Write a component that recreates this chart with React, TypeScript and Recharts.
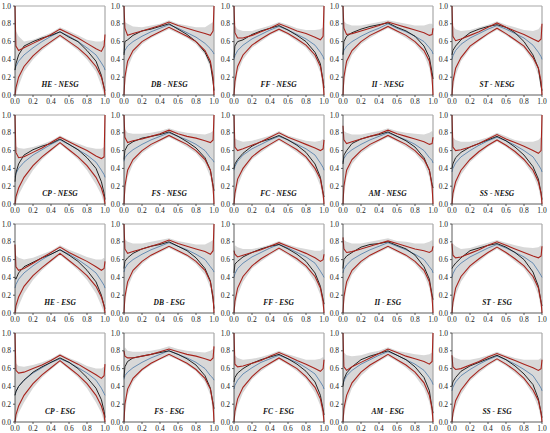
import {
  ComposedChart,
  Area,
  Line,
  XAxis,
  YAxis,
  ReferenceLine,
} from "recharts";

const X: number[] = [0, 0.01, 0.04, 0.1, 0.2, 0.3, 0.4, 0.5, 0.6, 0.7, 0.8, 0.9, 0.96, 0.99, 1];

const PANELS: string[] = [
  "HE - NESG", "DB - NESG", "FF - NESG", "II - NESG", "ST - NESG",
  "CP - NESG", "FS - NESG", "FC - NESG", "AM - NESG", "SS - NESG",
  "HE - ESG", "DB - ESG", "FF - ESG", "II - ESG", "ST - ESG",
  "CP - ESG", "FS - ESG", "FC - ESG", "AM - ESG", "SS - ESG",
];

// upper envelope (red)
const UPPER: number[][] = [
  [1.0, 0.55, 0.5, 0.53, 0.58, 0.63, 0.68, 0.74, 0.69, 0.64, 0.58, 0.52, 0.49, 0.55, 0.68],
  [1.0, 0.75, 0.67, 0.69, 0.72, 0.75, 0.78, 0.82, 0.78, 0.75, 0.72, 0.69, 0.67, 0.72, 1.0],
  [1.0, 0.7, 0.64, 0.64, 0.67, 0.71, 0.75, 0.8, 0.76, 0.72, 0.69, 0.65, 0.62, 0.66, 1.0],
  [1.0, 0.75, 0.68, 0.69, 0.72, 0.75, 0.78, 0.82, 0.79, 0.76, 0.73, 0.7, 0.67, 0.68, 0.75],
  [1.0, 0.66, 0.61, 0.63, 0.67, 0.71, 0.76, 0.81, 0.76, 0.72, 0.68, 0.63, 0.6, 0.63, 0.8],
  [1.0, 0.58, 0.52, 0.53, 0.58, 0.63, 0.69, 0.75, 0.7, 0.65, 0.6, 0.54, 0.51, 0.53, 1.0],
  [1.0, 0.75, 0.69, 0.71, 0.73, 0.76, 0.79, 0.83, 0.79, 0.76, 0.74, 0.71, 0.69, 0.72, 1.0],
  [1.0, 0.64, 0.6, 0.62, 0.66, 0.7, 0.75, 0.8, 0.75, 0.71, 0.67, 0.63, 0.6, 0.62, 0.72],
  [0.88, 0.72, 0.68, 0.7, 0.73, 0.76, 0.79, 0.83, 0.79, 0.76, 0.73, 0.7, 0.67, 0.68, 0.75],
  [1.0, 0.64, 0.6, 0.61, 0.64, 0.68, 0.73, 0.78, 0.73, 0.69, 0.65, 0.6, 0.57, 0.6, 1.0],
  [0.77, 0.52, 0.48, 0.5, 0.56, 0.62, 0.68, 0.74, 0.68, 0.63, 0.58, 0.52, 0.48, 0.5, 0.58],
  [1.0, 0.72, 0.67, 0.69, 0.72, 0.75, 0.78, 0.82, 0.78, 0.75, 0.72, 0.69, 0.66, 0.7, 1.0],
  [0.7, 0.66, 0.63, 0.65, 0.68, 0.71, 0.75, 0.79, 0.75, 0.71, 0.67, 0.62, 0.58, 0.6, 0.66],
  [0.85, 0.72, 0.68, 0.69, 0.72, 0.75, 0.78, 0.81, 0.78, 0.75, 0.72, 0.7, 0.68, 0.7, 0.75],
  [0.78, 0.65, 0.62, 0.63, 0.67, 0.71, 0.76, 0.8, 0.76, 0.72, 0.68, 0.64, 0.62, 0.64, 0.75],
  [1.0, 0.58, 0.55, 0.56, 0.6, 0.64, 0.69, 0.75, 0.7, 0.65, 0.59, 0.53, 0.49, 0.52, 0.65],
  [0.8, 0.74, 0.72, 0.72, 0.74, 0.76, 0.79, 0.82, 0.79, 0.76, 0.74, 0.71, 0.69, 0.72, 0.85],
  [1.0, 0.65, 0.62, 0.63, 0.66, 0.69, 0.74, 0.78, 0.74, 0.69, 0.65, 0.6, 0.57, 0.6, 0.7],
  [1.0, 0.62, 0.58, 0.62, 0.67, 0.72, 0.77, 0.82, 0.78, 0.74, 0.71, 0.68, 0.65, 0.68, 1.0],
  [0.75, 0.62, 0.59, 0.6, 0.64, 0.68, 0.73, 0.77, 0.73, 0.69, 0.65, 0.61, 0.58, 0.6, 0.7],
];

// lower envelope (red)
const LOWER: number[][] = [
  [0, 0.08, 0.2, 0.32, 0.44, 0.53, 0.6, 0.67, 0.6, 0.53, 0.44, 0.32, 0.2, 0.08, 0],
  [0, 0.2, 0.38, 0.5, 0.6, 0.66, 0.71, 0.76, 0.71, 0.66, 0.6, 0.5, 0.38, 0.2, 0],
  [0, 0.15, 0.32, 0.45, 0.56, 0.63, 0.69, 0.74, 0.69, 0.63, 0.56, 0.45, 0.32, 0.15, 0],
  [0, 0.2, 0.38, 0.5, 0.6, 0.67, 0.72, 0.77, 0.72, 0.67, 0.6, 0.5, 0.38, 0.2, 0],
  [0, 0.15, 0.3, 0.42, 0.55, 0.62, 0.69, 0.75, 0.69, 0.62, 0.55, 0.42, 0.3, 0.15, 0],
  [0, 0.08, 0.18, 0.3, 0.43, 0.53, 0.61, 0.69, 0.61, 0.53, 0.43, 0.3, 0.18, 0.08, 0],
  [0, 0.2, 0.38, 0.5, 0.6, 0.67, 0.72, 0.77, 0.72, 0.67, 0.6, 0.5, 0.38, 0.2, 0],
  [0, 0.12, 0.28, 0.4, 0.53, 0.61, 0.67, 0.73, 0.67, 0.61, 0.53, 0.4, 0.28, 0.12, 0],
  [0, 0.2, 0.38, 0.5, 0.6, 0.67, 0.72, 0.77, 0.72, 0.67, 0.6, 0.5, 0.38, 0.2, 0],
  [0, 0.12, 0.25, 0.38, 0.5, 0.59, 0.66, 0.72, 0.66, 0.59, 0.5, 0.38, 0.25, 0.12, 0],
  [0, 0.08, 0.18, 0.3, 0.42, 0.51, 0.59, 0.67, 0.59, 0.51, 0.42, 0.3, 0.18, 0.08, 0],
  [0, 0.18, 0.35, 0.48, 0.58, 0.65, 0.7, 0.75, 0.7, 0.65, 0.58, 0.48, 0.35, 0.18, 0],
  [0, 0.13, 0.28, 0.41, 0.53, 0.61, 0.67, 0.73, 0.67, 0.61, 0.53, 0.41, 0.28, 0.13, 0],
  [0, 0.18, 0.35, 0.48, 0.58, 0.65, 0.7, 0.75, 0.7, 0.65, 0.58, 0.48, 0.35, 0.18, 0],
  [0, 0.12, 0.28, 0.41, 0.53, 0.61, 0.68, 0.74, 0.68, 0.61, 0.53, 0.41, 0.28, 0.12, 0],
  [0, 0.08, 0.18, 0.3, 0.43, 0.53, 0.61, 0.69, 0.61, 0.53, 0.43, 0.3, 0.18, 0.08, 0],
  [0, 0.2, 0.37, 0.49, 0.59, 0.66, 0.71, 0.76, 0.71, 0.66, 0.59, 0.49, 0.37, 0.2, 0],
  [0, 0.12, 0.26, 0.39, 0.51, 0.6, 0.66, 0.72, 0.66, 0.6, 0.51, 0.39, 0.26, 0.12, 0],
  [0, 0.15, 0.3, 0.44, 0.56, 0.64, 0.7, 0.76, 0.7, 0.64, 0.56, 0.44, 0.3, 0.15, 0],
  [0, 0.1, 0.24, 0.36, 0.49, 0.58, 0.65, 0.71, 0.65, 0.58, 0.49, 0.36, 0.24, 0.1, 0],
];

// theoretical curve (blue)
const BLUE: number[][] = [
  [0.28, 0.32, 0.38, 0.45, 0.53, 0.6, 0.66, 0.71, 0.66, 0.6, 0.53, 0.45, 0.36, 0.31, 0.28],
  [0.47, 0.5, 0.55, 0.6, 0.66, 0.71, 0.75, 0.79, 0.75, 0.7, 0.65, 0.58, 0.52, 0.48, 0.46],
  [0.4, 0.44, 0.5, 0.56, 0.63, 0.68, 0.73, 0.77, 0.73, 0.68, 0.63, 0.56, 0.48, 0.43, 0.4],
  [0.46, 0.5, 0.55, 0.6, 0.66, 0.71, 0.75, 0.8, 0.75, 0.71, 0.66, 0.6, 0.53, 0.49, 0.46],
  [0.4, 0.44, 0.5, 0.57, 0.64, 0.69, 0.74, 0.78, 0.74, 0.69, 0.64, 0.56, 0.48, 0.43, 0.4],
  [0.3, 0.34, 0.4, 0.47, 0.55, 0.61, 0.67, 0.72, 0.67, 0.61, 0.55, 0.47, 0.38, 0.33, 0.3],
  [0.48, 0.52, 0.56, 0.61, 0.67, 0.72, 0.76, 0.8, 0.76, 0.72, 0.67, 0.6, 0.52, 0.49, 0.47],
  [0.38, 0.42, 0.48, 0.55, 0.62, 0.67, 0.72, 0.76, 0.72, 0.67, 0.62, 0.55, 0.46, 0.41, 0.38],
  [0.47, 0.51, 0.56, 0.61, 0.67, 0.72, 0.76, 0.8, 0.76, 0.72, 0.67, 0.6, 0.52, 0.49, 0.46],
  [0.36, 0.4, 0.46, 0.53, 0.6, 0.66, 0.71, 0.75, 0.71, 0.66, 0.6, 0.53, 0.44, 0.39, 0.36],
  [0.28, 0.32, 0.38, 0.45, 0.53, 0.6, 0.66, 0.71, 0.66, 0.6, 0.53, 0.45, 0.36, 0.31, 0.28],
  [0.46, 0.5, 0.55, 0.6, 0.66, 0.71, 0.75, 0.79, 0.75, 0.71, 0.66, 0.6, 0.52, 0.48, 0.46],
  [0.4, 0.44, 0.5, 0.56, 0.63, 0.68, 0.73, 0.77, 0.73, 0.68, 0.63, 0.56, 0.47, 0.42, 0.4],
  [0.45, 0.49, 0.54, 0.6, 0.66, 0.71, 0.75, 0.79, 0.75, 0.71, 0.66, 0.6, 0.52, 0.48, 0.45],
  [0.4, 0.44, 0.5, 0.56, 0.63, 0.68, 0.73, 0.77, 0.73, 0.68, 0.63, 0.56, 0.47, 0.42, 0.4],
  [0.3, 0.34, 0.4, 0.47, 0.55, 0.61, 0.67, 0.71, 0.67, 0.61, 0.55, 0.47, 0.38, 0.32, 0.3],
  [0.48, 0.52, 0.56, 0.61, 0.67, 0.72, 0.76, 0.8, 0.76, 0.72, 0.67, 0.6, 0.52, 0.49, 0.47],
  [0.37, 0.41, 0.47, 0.54, 0.61, 0.67, 0.71, 0.75, 0.71, 0.67, 0.61, 0.54, 0.45, 0.4, 0.37],
  [0.42, 0.46, 0.52, 0.58, 0.65, 0.7, 0.75, 0.79, 0.75, 0.7, 0.65, 0.58, 0.5, 0.45, 0.42],
  [0.35, 0.39, 0.45, 0.52, 0.59, 0.65, 0.7, 0.74, 0.7, 0.65, 0.59, 0.52, 0.43, 0.38, 0.35],
];

// empirical curve (black)
const BLACK: number[][] = [
  [0.28, 0.35, 0.45, 0.55, 0.6, 0.64, 0.67, 0.71, 0.65, 0.6, 0.5, 0.38, 0.22, 0.08, 0.05],
  [0.45, 0.6, 0.62, 0.67, 0.72, 0.74, 0.77, 0.8, 0.74, 0.68, 0.6, 0.48, 0.35, 0.15, 0.05],
  [0.42, 0.55, 0.6, 0.62, 0.68, 0.72, 0.75, 0.78, 0.73, 0.67, 0.6, 0.48, 0.35, 0.15, 0.08],
  [0.45, 0.6, 0.66, 0.7, 0.74, 0.77, 0.79, 0.81, 0.76, 0.72, 0.66, 0.55, 0.42, 0.25, 0.18],
  [0.45, 0.5, 0.55, 0.62, 0.7, 0.74, 0.77, 0.79, 0.76, 0.7, 0.6, 0.45, 0.3, 0.1, 0.05],
  [0.25, 0.35, 0.45, 0.55, 0.61, 0.65, 0.68, 0.73, 0.67, 0.61, 0.52, 0.4, 0.25, 0.12, 0.05],
  [0.5, 0.6, 0.66, 0.7, 0.74, 0.76, 0.78, 0.81, 0.76, 0.7, 0.63, 0.52, 0.38, 0.2, 0.15],
  [0.4, 0.45, 0.5, 0.57, 0.65, 0.7, 0.73, 0.77, 0.72, 0.66, 0.58, 0.45, 0.3, 0.12, 0.08],
  [0.45, 0.55, 0.6, 0.68, 0.73, 0.76, 0.78, 0.81, 0.76, 0.71, 0.64, 0.52, 0.38, 0.22, 0.18],
  [0.4, 0.45, 0.52, 0.58, 0.64, 0.68, 0.72, 0.76, 0.71, 0.64, 0.55, 0.42, 0.28, 0.12, 0.05],
  [0.4, 0.38, 0.45, 0.52, 0.57, 0.62, 0.66, 0.71, 0.65, 0.58, 0.48, 0.35, 0.2, 0.08, 0.05],
  [0.5, 0.58, 0.62, 0.67, 0.72, 0.75, 0.77, 0.8, 0.75, 0.7, 0.62, 0.5, 0.36, 0.15, 0.05],
  [0.45, 0.55, 0.58, 0.63, 0.68, 0.72, 0.75, 0.77, 0.72, 0.66, 0.58, 0.45, 0.3, 0.15, 0.1],
  [0.5, 0.6, 0.64, 0.68, 0.74, 0.77, 0.78, 0.8, 0.76, 0.72, 0.65, 0.52, 0.38, 0.2, 0.15],
  [0.5, 0.52, 0.56, 0.62, 0.7, 0.73, 0.76, 0.78, 0.74, 0.68, 0.6, 0.46, 0.3, 0.12, 0.08],
  [0.3, 0.34, 0.4, 0.47, 0.56, 0.62, 0.67, 0.72, 0.67, 0.6, 0.5, 0.38, 0.25, 0.12, 0.05],
  [0.5, 0.62, 0.68, 0.72, 0.74, 0.76, 0.78, 0.8, 0.76, 0.71, 0.64, 0.52, 0.38, 0.2, 0.15],
  [0.45, 0.5, 0.55, 0.6, 0.66, 0.7, 0.73, 0.76, 0.71, 0.65, 0.57, 0.45, 0.3, 0.14, 0.08],
  [0.4, 0.48, 0.55, 0.62, 0.7, 0.74, 0.77, 0.8, 0.75, 0.7, 0.62, 0.5, 0.35, 0.15, 0.1],
  [0.4, 0.45, 0.5, 0.57, 0.63, 0.67, 0.71, 0.75, 0.7, 0.63, 0.54, 0.42, 0.26, 0.1, 0.05],
];

// spread of simulated paths (grey band)
const BAND_HI: number[][] = [
  [0.7, 0.72, 0.66, 0.6, 0.62, 0.66, 0.7, 0.76, 0.72, 0.67, 0.62, 0.6, 0.6, 0.62, 0.62],
  [0.8, 0.82, 0.8, 0.77, 0.76, 0.78, 0.8, 0.84, 0.8, 0.78, 0.76, 0.76, 0.8, 0.82, 0.8],
  [0.75, 0.78, 0.74, 0.72, 0.72, 0.75, 0.78, 0.82, 0.79, 0.75, 0.73, 0.73, 0.74, 0.76, 0.74],
  [0.8, 0.83, 0.8, 0.78, 0.78, 0.8, 0.82, 0.84, 0.82, 0.8, 0.78, 0.78, 0.8, 0.8, 0.78],
  [0.75, 0.78, 0.74, 0.72, 0.73, 0.76, 0.79, 0.83, 0.79, 0.76, 0.73, 0.72, 0.74, 0.78, 0.8],
  [0.62, 0.65, 0.63, 0.62, 0.64, 0.67, 0.71, 0.77, 0.72, 0.68, 0.64, 0.62, 0.62, 0.64, 0.62],
  [0.8, 0.84, 0.8, 0.79, 0.79, 0.8, 0.82, 0.85, 0.82, 0.8, 0.79, 0.78, 0.8, 0.82, 0.8],
  [0.72, 0.74, 0.72, 0.7, 0.71, 0.74, 0.77, 0.82, 0.77, 0.74, 0.71, 0.7, 0.71, 0.73, 0.72],
  [0.8, 0.82, 0.8, 0.78, 0.78, 0.8, 0.82, 0.85, 0.82, 0.8, 0.79, 0.78, 0.8, 0.82, 0.8],
  [0.72, 0.75, 0.72, 0.7, 0.7, 0.72, 0.75, 0.8, 0.76, 0.72, 0.7, 0.7, 0.72, 0.75, 0.72],
  [0.6, 0.65, 0.62, 0.6, 0.62, 0.66, 0.7, 0.76, 0.71, 0.67, 0.63, 0.6, 0.6, 0.62, 0.6],
  [0.8, 0.83, 0.8, 0.78, 0.78, 0.8, 0.82, 0.84, 0.81, 0.79, 0.77, 0.77, 0.8, 0.82, 0.8],
  [0.72, 0.76, 0.74, 0.72, 0.72, 0.74, 0.77, 0.81, 0.77, 0.74, 0.72, 0.7, 0.7, 0.72, 0.7],
  [0.8, 0.82, 0.8, 0.78, 0.78, 0.8, 0.82, 0.84, 0.81, 0.8, 0.78, 0.78, 0.8, 0.82, 0.8],
  [0.75, 0.78, 0.75, 0.72, 0.73, 0.76, 0.79, 0.82, 0.79, 0.76, 0.74, 0.73, 0.74, 0.76, 0.74],
  [0.62, 0.66, 0.63, 0.62, 0.64, 0.67, 0.71, 0.77, 0.72, 0.68, 0.63, 0.6, 0.6, 0.62, 0.6],
  [0.8, 0.84, 0.8, 0.79, 0.79, 0.8, 0.82, 0.85, 0.82, 0.8, 0.79, 0.78, 0.8, 0.82, 0.8],
  [0.72, 0.75, 0.72, 0.7, 0.71, 0.73, 0.76, 0.8, 0.76, 0.73, 0.7, 0.7, 0.71, 0.73, 0.72],
  [0.75, 0.78, 0.75, 0.74, 0.75, 0.78, 0.8, 0.84, 0.8, 0.78, 0.76, 0.75, 0.76, 0.78, 0.76],
  [0.7, 0.74, 0.72, 0.7, 0.7, 0.72, 0.75, 0.79, 0.75, 0.72, 0.7, 0.7, 0.7, 0.72, 0.7],
];

const BAND_LO: number[][] = [
  [0, 0, 0.1, 0.26, 0.4, 0.5, 0.58, 0.65, 0.58, 0.5, 0.4, 0.26, 0.1, 0, 0],
  [0, 0.1, 0.3, 0.45, 0.57, 0.64, 0.69, 0.74, 0.69, 0.64, 0.57, 0.45, 0.3, 0.1, 0],
  [0, 0.05, 0.25, 0.4, 0.53, 0.6, 0.67, 0.72, 0.67, 0.6, 0.53, 0.4, 0.25, 0.05, 0],
  [0, 0.1, 0.3, 0.45, 0.57, 0.64, 0.7, 0.75, 0.7, 0.64, 0.57, 0.45, 0.3, 0.1, 0],
  [0, 0.05, 0.22, 0.38, 0.52, 0.6, 0.67, 0.73, 0.67, 0.6, 0.52, 0.38, 0.22, 0.05, 0],
  [0, 0, 0.1, 0.22, 0.38, 0.5, 0.59, 0.67, 0.59, 0.5, 0.38, 0.22, 0.1, 0, 0],
  [0, 0.1, 0.3, 0.45, 0.57, 0.64, 0.7, 0.75, 0.7, 0.64, 0.57, 0.45, 0.3, 0.1, 0],
  [0, 0.04, 0.2, 0.35, 0.5, 0.58, 0.65, 0.71, 0.65, 0.58, 0.5, 0.35, 0.2, 0.04, 0],
  [0, 0.1, 0.3, 0.45, 0.57, 0.64, 0.7, 0.75, 0.7, 0.64, 0.57, 0.45, 0.3, 0.1, 0],
  [0, 0.04, 0.18, 0.33, 0.47, 0.56, 0.64, 0.7, 0.64, 0.56, 0.47, 0.33, 0.18, 0.04, 0],
  [0, 0, 0.08, 0.22, 0.37, 0.48, 0.57, 0.65, 0.57, 0.48, 0.37, 0.22, 0.08, 0, 0],
  [0, 0.1, 0.28, 0.43, 0.55, 0.63, 0.68, 0.73, 0.68, 0.63, 0.55, 0.43, 0.28, 0.1, 0],
  [0, 0.05, 0.2, 0.35, 0.5, 0.58, 0.65, 0.71, 0.65, 0.58, 0.5, 0.35, 0.2, 0.05, 0],
  [0, 0.1, 0.28, 0.43, 0.55, 0.63, 0.68, 0.73, 0.68, 0.63, 0.55, 0.43, 0.28, 0.1, 0],
  [0, 0.05, 0.2, 0.35, 0.5, 0.58, 0.66, 0.72, 0.66, 0.58, 0.5, 0.35, 0.2, 0.05, 0],
  [0, 0, 0.1, 0.22, 0.38, 0.5, 0.59, 0.67, 0.59, 0.5, 0.38, 0.22, 0.1, 0, 0],
  [0, 0.1, 0.3, 0.45, 0.57, 0.64, 0.7, 0.74, 0.7, 0.64, 0.57, 0.45, 0.3, 0.1, 0],
  [0, 0.04, 0.18, 0.33, 0.48, 0.57, 0.64, 0.7, 0.64, 0.57, 0.48, 0.33, 0.18, 0.04, 0],
  [0, 0.06, 0.22, 0.38, 0.52, 0.61, 0.68, 0.74, 0.68, 0.61, 0.52, 0.38, 0.22, 0.06, 0],
  [0, 0.04, 0.16, 0.31, 0.46, 0.55, 0.63, 0.69, 0.63, 0.55, 0.46, 0.31, 0.16, 0.04, 0],
];

const TICKS = [0, 0.2, 0.4, 0.6, 0.8, 1];
const FONT = "'Liberation Serif', 'DejaVu Serif', serif";
const RED = "#a8231c";
const PITCH_X = 109.25;
const PITCH_Y = 109;

function Panel({ index }: { index: number }) {
  const data = X.map((x, i) => ({
    x,
    band: [BAND_LO[index][i], BAND_HI[index][i]],
    upper: UPPER[index][i],
    lower: LOWER[index][i],
    blue: BLUE[index][i],
    black: BLACK[index][i],
  }));
  const col = index % 5;
  const row = Math.floor(index / 5);
  const tick = { fontSize: 7.5, fill: "#222", fontFamily: FONT };
  return (
    <div
      style={{
        position: "absolute",
        left: col * PITCH_X,
        top: row * PITCH_Y,
        width: 113,
        height: 109,
      }}
    >
      <ComposedChart
        width={113}
        height={109}
        data={data}
        margin={{ top: 6, right: 8, bottom: 0, left: 0 }}
      >
        <XAxis
          type="number"
          dataKey="x"
          domain={[0, 1]}
          ticks={TICKS}
          tickFormatter={(v: number) => v.toFixed(1)}
          tick={tick}
          tickSize={2}
          height={14}
          interval={0}
          stroke="#333"
          strokeWidth={0.8}
        />
        <YAxis
          type="number"
          domain={[0, 1]}
          ticks={TICKS}
          tickFormatter={(v: number) => v.toFixed(1)}
          tick={tick}
          tickSize={2}
          width={15}
          interval={0}
          stroke="#333"
          strokeWidth={0.8}
        />
        <ReferenceLine y={1} stroke="#a8a8a8" strokeWidth={1.2} />
        <ReferenceLine x={1} stroke="#a8a8a8" strokeWidth={1.2} />
        <Area
          type="linear"
          dataKey="band"
          stroke="none"
          fill="#d8d8d8"
          fillOpacity={1}
          isAnimationActive={false}
        />
        <Line type="linear" dataKey="blue" stroke="#4a78a8" strokeWidth={0.8} dot={false} isAnimationActive={false} />
        <Line type="linear" dataKey="black" stroke="#111" strokeWidth={0.9} dot={false} isAnimationActive={false} />
        <Line type="linear" dataKey="lower" stroke={RED} strokeWidth={1.1} dot={false} isAnimationActive={false} />
        <Line type="linear" dataKey="upper" stroke={RED} strokeWidth={1.1} dot={false} isAnimationActive={false} />
      </ComposedChart>
      <div
        style={{
          position: "absolute",
          left: 15,
          width: 90,
          top: 80,
          textAlign: "center",
          fontFamily: FONT,
          fontStyle: "italic",
          fontWeight: 600,
          fontSize: 7.5,
          color: "#111",
          whiteSpace: "nowrap",
        }}
      >
        {PANELS[index]}
      </div>
    </div>
  );
}

export default function App() {
  return (
    <div
      style={{
        position: "absolute",
        left: 0,
        top: 0,
        width: 550,
        height: 433,
        background: "#fff",
        overflow: "hidden",
      }}
    >
      {PANELS.map((name, i) => (
        <Panel key={name} index={i} />
      ))}
    </div>
  );
}
